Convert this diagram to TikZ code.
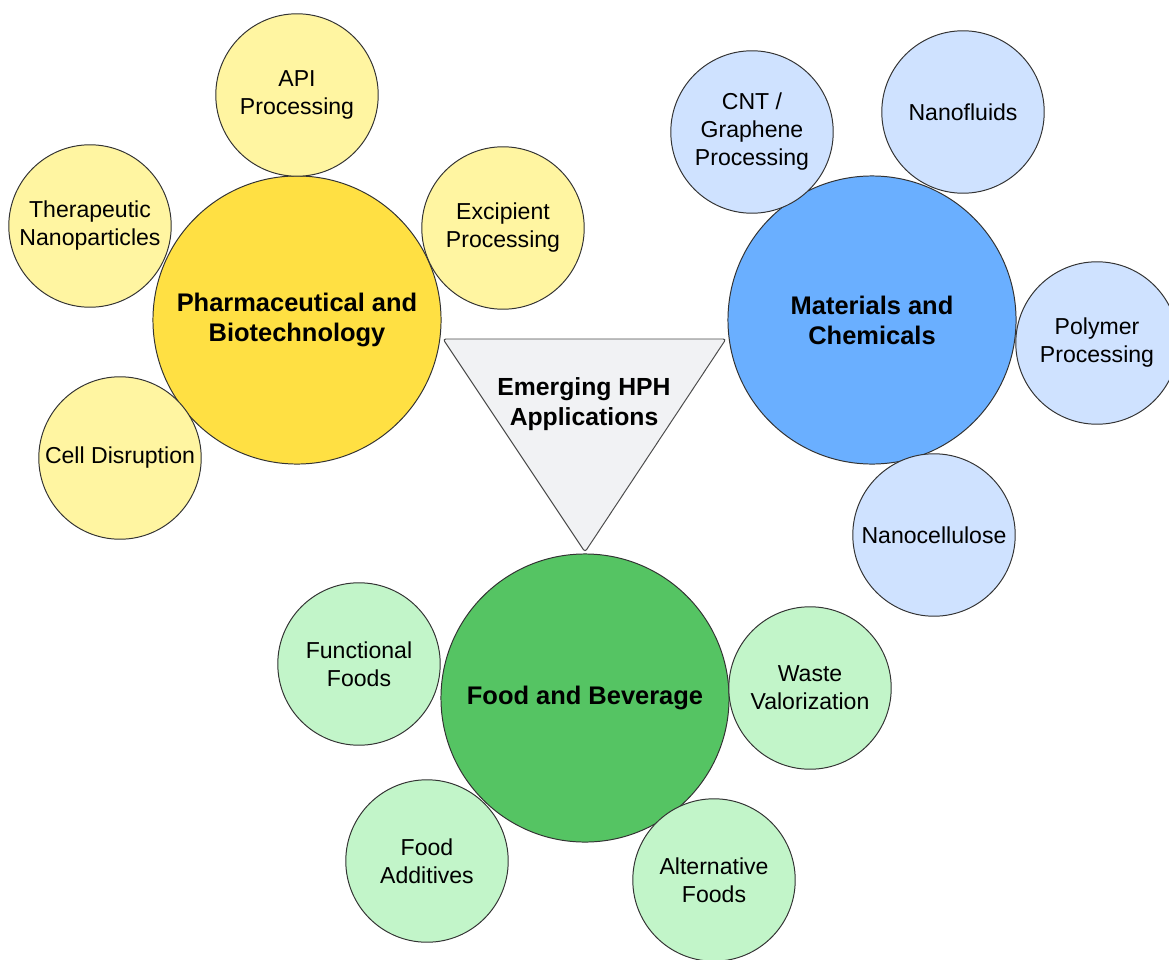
\documentclass[tikz,border=0pt]{standalone}
\usepackage{fontspec}
\setmainfont{Liberation Sans}
\definecolor{pharmabig}{HTML}{FFE043}
\definecolor{pharmasmall}{HTML}{FFF5A1}
\definecolor{matbig}{HTML}{6AAFFF}
\definecolor{matsmall}{HTML}{CFE2FF}
\definecolor{foodbig}{HTML}{55C463}
\definecolor{foodsmall}{HTML}{C2F5C9}
\definecolor{hubgray}{HTML}{F1F2F4}
\tikzset{
  bubble/.style={circle, draw=black!80, line width=0.7pt, align=center, inner sep=0pt,
    font=\fontsize{16.4}{19.9}\selectfont},
  bigbubble/.style={bubble, minimum size=7.2cm, font=\bfseries\fontsize{18.1}{21.3}\selectfont},
  smallbubble/.style={bubble, minimum size=4.06cm}
}
\begin{document}
\begin{tikzpicture}[x=0.025cm, y=-0.025cm]
\useasboundingbox (0,0) rectangle (1169,959);
\clip (0,0) rectangle (1169,959);

% centre
\filldraw[fill=hubgray, draw=black!70, line width=0.7pt, rounded corners=2pt]
  (443,339) -- (726,339) -- (585,552) -- cycle;
\node[align=center, font=\bfseries\fontsize{17.6}{21.3}\selectfont] (hub) at (584,404)
  {Emerging HPH\\Applications};

% pharmaceutical
\node[bigbubble, fill=pharmabig] (pharma) at (297,320) {Pharmaceutical and\\Biotechnology};
\node[smallbubble, fill=pharmasmall] (api) at (297,95) {API\\Processing};
\node[smallbubble, fill=pharmasmall] (thera) at (90,226) {Therapeutic\\Nanoparticles};
\node[smallbubble, fill=pharmasmall] (excip) at (503,228) {Excipient\\Processing};
\node[smallbubble, fill=pharmasmall] (cell) at (120,458) {Cell Disruption};

% materials
\node[bigbubble, fill=matbig] (mat) at (872,320) {Materials and\\Chemicals};
\node[smallbubble, fill=matsmall] (cnt) at (752,132) {CNT /\\Graphene\\Processing};
\node[smallbubble, fill=matsmall] (fluids) at (963,112) {Nanofluids};
\node[smallbubble, fill=matsmall] (polymer) at (1097,343) {Polymer\\Processing};
\node[smallbubble, fill=matsmall] (cellulose) at (934,535) {Nanocellulose};

% food
\node[bigbubble, fill=foodbig] (food) at (585,698) {Food and Beverage};
\node[smallbubble, fill=foodsmall] (func) at (359,664) {Functional\\Foods};
\node[smallbubble, fill=foodsmall] (waste) at (810,688) {Waste\\Valorization};
\node[smallbubble, fill=foodsmall] (additives) at (427,861) {Food\\Additives};
\node[smallbubble, fill=foodsmall] (altfoods) at (714,880) {Alternative\\Foods};

\end{tikzpicture}
\end{document}
